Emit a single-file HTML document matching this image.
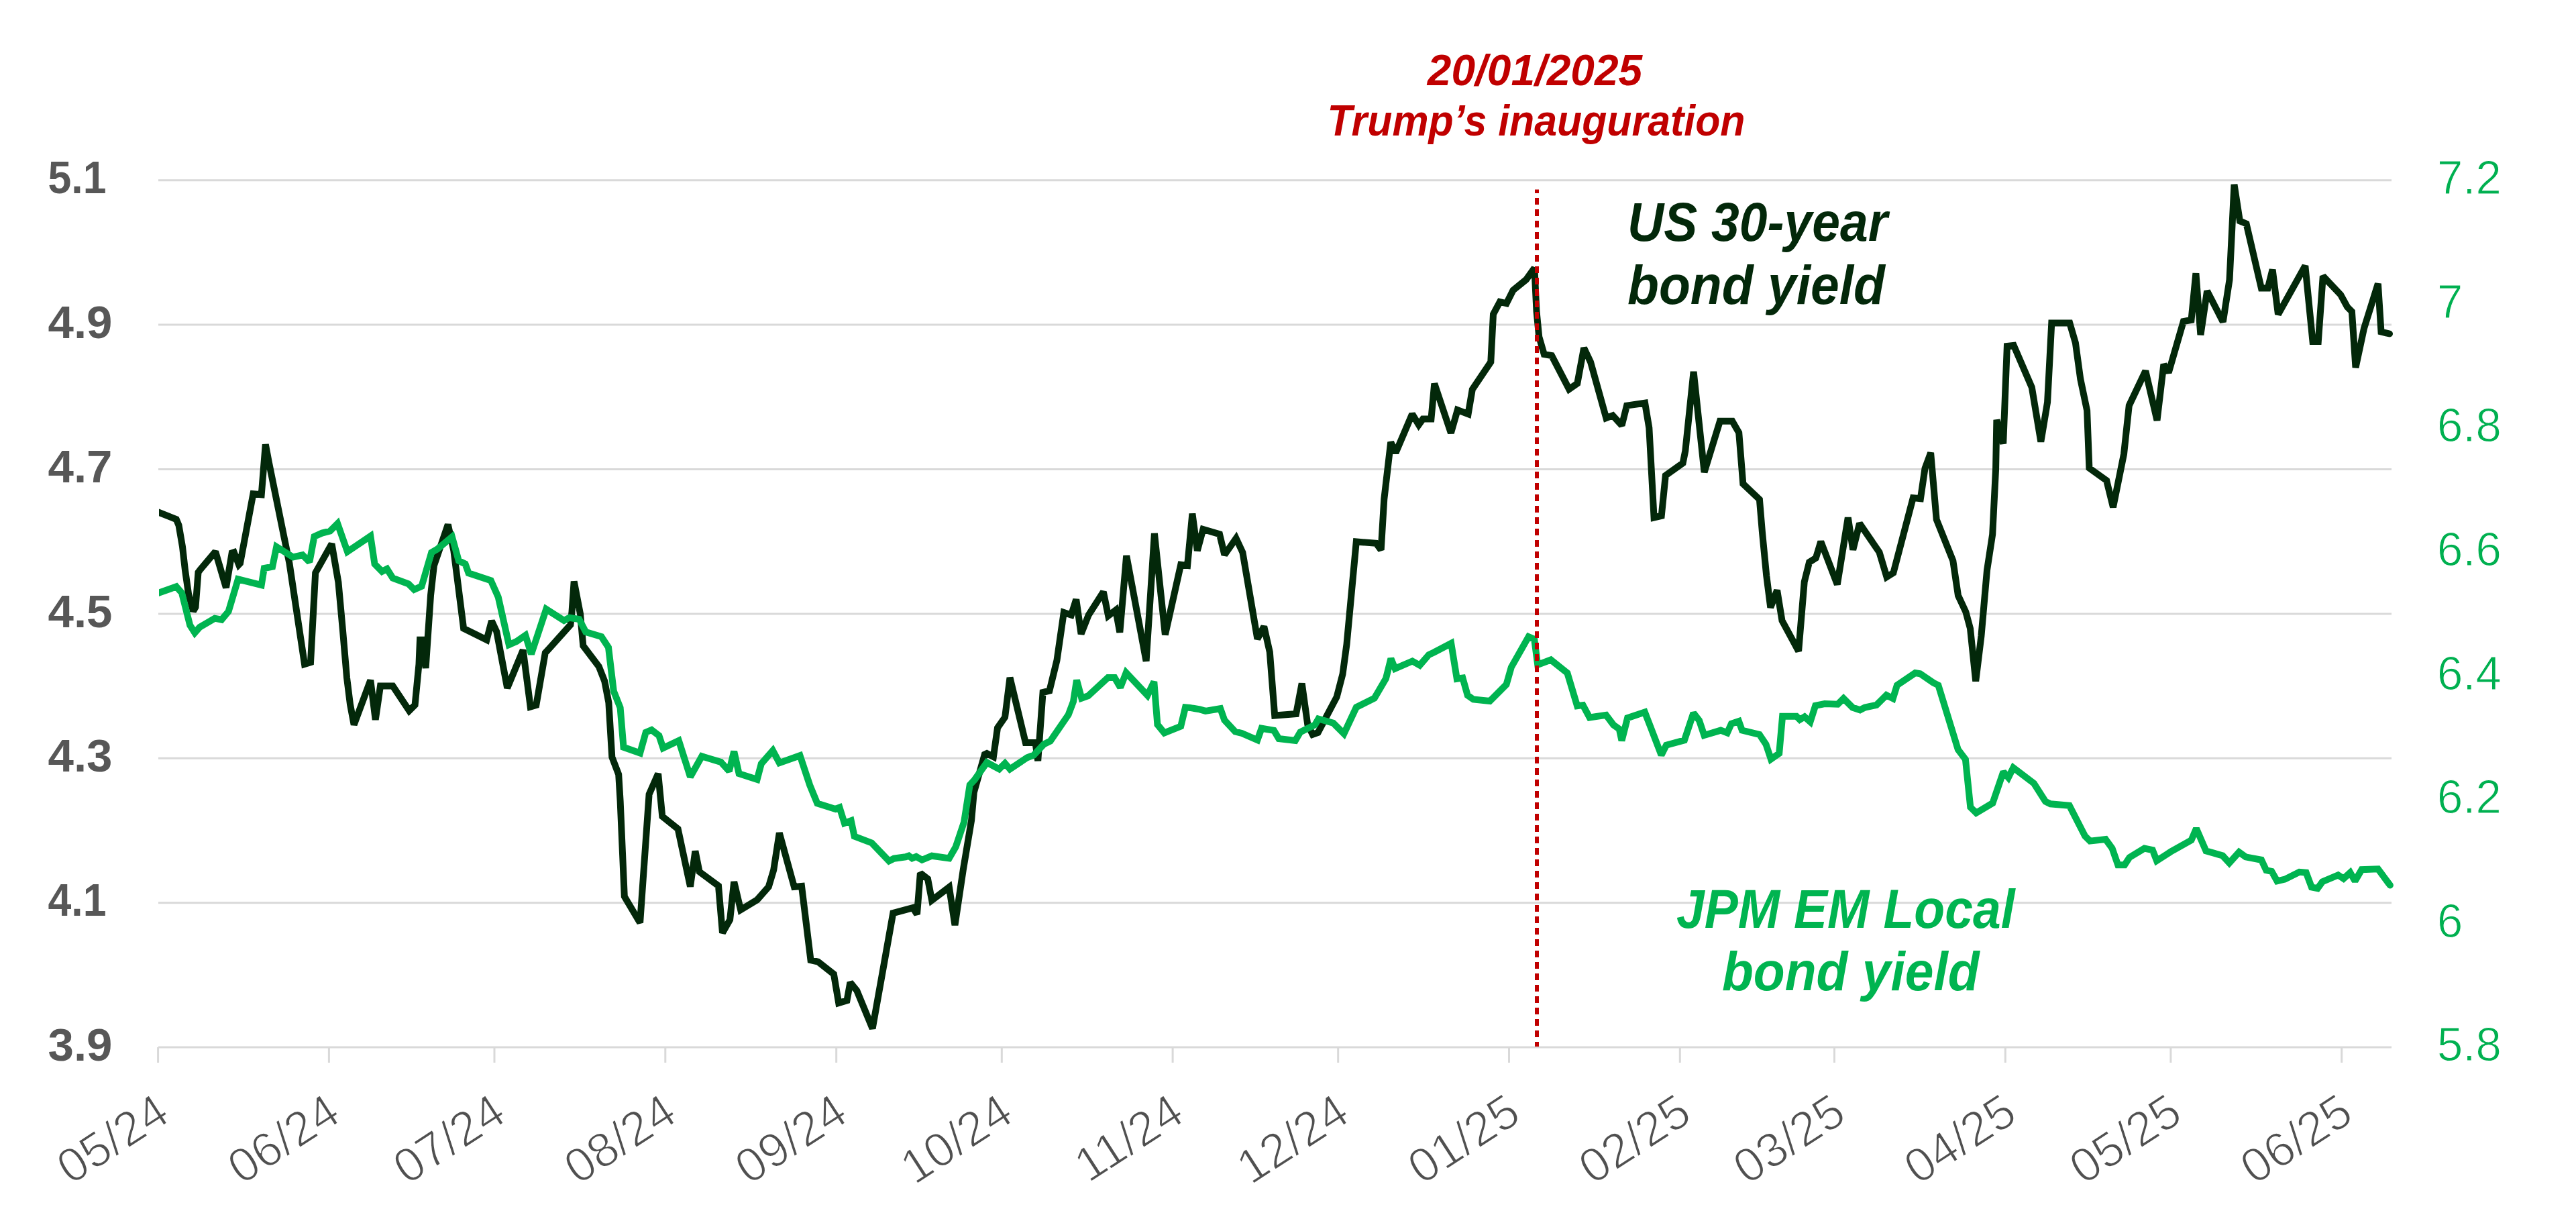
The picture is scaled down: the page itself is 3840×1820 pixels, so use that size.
<!DOCTYPE html>
<html><head><meta charset="utf-8"><title>US 30-year vs JPM EM Local bond yield</title>
<style>html,body{margin:0;padding:0;background:#fff;}svg{display:block;}</style></head>
<body>
<svg width="3840" height="1820" viewBox="0 0 3840 1820">
<rect width="3840" height="1820" fill="#fff"/>
<path d="M236 268.7H3565M236 484.1H3565M236 699.5H3565M236 914.9H3565M236 1130.3H3565M236 1345.7H3565M236 1561.1H3565M235.6 1561.1V1584.1M490.4 1561.1V1584.1M737.0 1561.1V1584.1M991.8 1561.1V1584.1M1246.7 1561.1V1584.1M1493.3 1561.1V1584.1M1748.1 1561.1V1584.1M1994.7 1561.1V1584.1M2249.5 1561.1V1584.1M2504.3 1561.1V1584.1M2734.5 1561.1V1584.1M2989.3 1561.1V1584.1M3235.9 1561.1V1584.1M3490.7 1561.1V1584.1" stroke="#d9d9d9" stroke-width="3" fill="none"/>
<g font-family="&quot;Liberation Sans&quot;, sans-serif" font-weight="bold" font-size="69" fill="#575757">
<text x="71.5" y="288.4" textLength="87.0" lengthAdjust="spacingAndGlyphs">5.1</text>
<text x="71.5" y="503.8" textLength="96.0" lengthAdjust="spacingAndGlyphs">4.9</text>
<text x="71.5" y="719.2" textLength="96.0" lengthAdjust="spacingAndGlyphs">4.7</text>
<text x="71.5" y="934.6" textLength="96.0" lengthAdjust="spacingAndGlyphs">4.5</text>
<text x="71.5" y="1150.0" textLength="96.0" lengthAdjust="spacingAndGlyphs">4.3</text>
<text x="71.5" y="1365.4" textLength="87.0" lengthAdjust="spacingAndGlyphs">4.1</text>
<text x="71.5" y="1580.8" textLength="96.0" lengthAdjust="spacingAndGlyphs">3.9</text>
</g>
<g font-family="&quot;Liberation Sans&quot;, sans-serif" font-size="70" fill="#00b050" stroke="#fff" stroke-width="1">
<text x="3633" y="289.0" textLength="95.8" lengthAdjust="spacingAndGlyphs">7.2</text>
<text x="3633" y="473.6" textLength="38.3" lengthAdjust="spacingAndGlyphs">7</text>
<text x="3633" y="658.3" textLength="95.8" lengthAdjust="spacingAndGlyphs">6.8</text>
<text x="3633" y="842.9" textLength="95.8" lengthAdjust="spacingAndGlyphs">6.6</text>
<text x="3633" y="1027.5" textLength="95.8" lengthAdjust="spacingAndGlyphs">6.4</text>
<text x="3633" y="1212.1" textLength="95.8" lengthAdjust="spacingAndGlyphs">6.2</text>
<text x="3633" y="1396.8" textLength="38.3" lengthAdjust="spacingAndGlyphs">6</text>
<text x="3633" y="1581.4" textLength="95.8" lengthAdjust="spacingAndGlyphs">5.8</text>
</g>
<g font-family="&quot;Liberation Sans&quot;, sans-serif" font-size="72" fill="#505050" stroke="#fff" stroke-width="1.8" text-anchor="end">
<text transform="translate(256.6,1669.1) rotate(-33)">05/24</text>
<text transform="translate(511.4,1669.1) rotate(-33)">06/24</text>
<text transform="translate(758.0,1669.1) rotate(-33)">07/24</text>
<text transform="translate(1012.8,1669.1) rotate(-33)">08/24</text>
<text transform="translate(1267.7,1669.1) rotate(-33)">09/24</text>
<text transform="translate(1514.3,1669.1) rotate(-33)">10/24</text>
<text transform="translate(1769.1,1669.1) rotate(-33)">11/24</text>
<text transform="translate(2015.7,1669.1) rotate(-33)">12/24</text>
<text transform="translate(2270.5,1669.1) rotate(-33)">01/25</text>
<text transform="translate(2525.3,1669.1) rotate(-33)">02/25</text>
<text transform="translate(2755.5,1669.1) rotate(-33)">03/25</text>
<text transform="translate(3010.3,1669.1) rotate(-33)">04/25</text>
<text transform="translate(3256.9,1669.1) rotate(-33)">05/25</text>
<text transform="translate(3511.7,1669.1) rotate(-33)">06/25</text>
</g>
<defs><clipPath id="pc"><rect x="237" y="0" width="3400" height="1820"/></clipPath></defs>
<g clip-path="url(#pc)">
<polyline points="228.0,760.5 237.2,763.9 262.8,774.1 266.5,783.0 272.0,815.0 276.0,850.0 281.0,885.0 288.0,911.0 291.5,905.0 295.5,853.0 298.5,849.0 321.1,822.2 337.0,876.0 345.7,824.3 348.8,823.3 356.0,841.7 358.0,839.6 377.4,736.2 389.7,737.3 395.8,662.5 401.0,690.0 431.4,839.5 454.0,990.0 463.0,987.2 470.2,853.9 494.5,810.6 504.4,867.8 511.0,940.0 517.0,1010.0 522.0,1050.0 527.7,1080.2 552.3,1013.9 559.7,1072.9 567.0,1022.5 585.5,1022.5 610.0,1059.3 618.6,1050.7 624.5,990.0 626.0,953.7 630.0,953.7 634.6,996.0 642.0,887.4 646.9,843.2 667.8,781.8 676.4,821.0 691.1,936.6 725.5,953.8 732.9,925.5 740.3,941.5 756.2,1025.6 779.7,968.8 790.7,1053.6 799.3,1051.1 812.8,973.0 819.0,966.3 850.4,931.4 852.5,912.0 855.7,866.7 865.0,915.0 869.3,962.5 892.7,993.4 901.3,1015.5 907.4,1047.4 912.3,1128.5 922.2,1154.4 924.6,1193.7 930.8,1336.2 954.1,1375.5 967.6,1183.9 981.1,1153.2 987.3,1217.0 1010.6,1235.5 1029.0,1321.5 1036.4,1268.6 1042.6,1299.4 1071.0,1320.5 1077.0,1390.6 1088.1,1370.9 1094.2,1314.4 1104.1,1356.2 1128.6,1341.4 1145.8,1321.8 1153.2,1297.0 1161.8,1241.6 1183.9,1322.0 1195.0,1321.0 1208.5,1431.1 1219.5,1433.6 1242.9,1452.0 1250.2,1495.0 1262.5,1491.3 1267.4,1464.3 1277.3,1476.6 1300.6,1533.1 1331.3,1361.1 1360.9,1353.1 1367.0,1362.9 1371.9,1301.5 1383.0,1310.1 1389.1,1342.0 1414.9,1322.4 1423.5,1378.9 1435.8,1296.6 1448.1,1222.9 1451.8,1181.1 1467.8,1124.6 1471.1,1123.0 1480.9,1128.0 1487.0,1085.0 1498.1,1069.0 1505.5,1010.0 1528.8,1107.1 1543.5,1107.1 1547.2,1134.1 1554.6,1032.1 1564.4,1029.7 1575.5,984.2 1585.8,913.0 1596.9,916.7 1604.2,893.4 1611.6,945.0 1622.7,916.7 1644.8,882.3 1652.1,918.0 1663.2,909.4 1669.3,942.5 1679.2,828.3 1708.6,985.5 1720.9,795.1 1736.9,946.2 1760.2,841.8 1770.1,843.0 1777.4,765.6 1784.8,820.9 1793.4,789.0 1818.0,796.3 1825.4,827.0 1842.6,802.5 1852.4,823.4 1874.4,952.3 1884.2,933.9 1892.8,972.0 1900.2,1066.6 1932.1,1064.1 1940.7,1018.7 1949.3,1080.1 1956.7,1094.8 1964.7,1092.0 1978.0,1066.7 1992.7,1038.7 2001.5,1004.8 2007.5,960.5 2021.8,807.4 2051.3,809.8 2058.7,819.7 2063.3,743.8 2073.2,659.0 2080.5,675.0 2105.1,617.2 2114.9,633.2 2121.1,624.6 2133.4,624.6 2138.3,571.8 2162.9,645.5 2172.7,611.1 2188.6,617.2 2194.8,580.4 2222.3,539.5 2226.0,468.3 2235.8,449.9 2245.7,452.3 2255.5,432.7 2275.1,416.7 2287.4,399.5 2290.5,464.0 2294.2,501.8 2301.8,528.2 2313.1,530.1 2339.0,580.1 2351.3,571.5 2361.1,518.6 2371.0,539.5 2394.3,623.1 2404.1,619.4 2417.6,634.1 2425.0,604.6 2452.1,600.7 2458.3,637.6 2465.6,771.5 2476.7,769.0 2482.8,708.8 2508.6,690.4 2512.3,672.0 2524.6,554.1 2540.6,703.9 2563.9,627.8 2582.3,627.8 2592.2,645.0 2598.3,721.1 2622.9,744.5 2627.0,793.7 2633.2,857.6 2639.3,905.5 2649.1,879.7 2656.5,925.2 2681.1,970.6 2689.7,867.4 2697.1,837.9 2706.9,831.8 2714.3,807.2 2738.8,871.1 2754.8,771.6 2762.2,819.5 2772.0,780.2 2801.5,823.2 2812.5,860.0 2822.4,853.9 2851.8,742.1 2862.9,743.3 2869.5,698.3 2878.1,674.9 2886.7,774.4 2911.3,835.9 2919.0,887.7 2930.4,912.2 2937.0,936.8 2945.2,1015.4 2953.4,948.3 2962.0,850.0 2970.2,796.6 2975.1,698.3 2976.4,625.8 2986.2,661.4 2991.9,516.0 3001.8,514.8 3028.8,577.4 3042.3,658.5 3052.1,599.5 3058.3,481.6 3085.3,481.6 3093.9,511.1 3101.3,565.1 3111.1,611.8 3114.4,697.7 3140.2,716.2 3150.0,756.1 3166.0,676.9 3173.8,604.5 3198.3,552.9 3215.5,626.6 3225.4,543.0 3232.7,555.3 3254.8,479.1 3266.5,477.0 3273.4,407.3 3280.4,499.2 3290.1,433.8 3313.8,479.7 3323.5,417.1 3330.5,275.1 3338.9,329.4 3348.6,333.5 3370.9,429.6 3380.6,429.6 3387.6,401.8 3396.0,468.6 3436.3,396.2 3447.5,509.0 3455.8,509.0 3462.8,411.5 3489.2,439.4 3499.0,457.5 3505.9,464.4 3511.5,548.0 3524.0,489.5 3544.9,422.7 3549.5,494.5 3562.0,497.5" fill="none" stroke="#03280a" stroke-width="10" stroke-linejoin="miter" stroke-miterlimit="2" stroke-linecap="round"/>
<polyline points="228.0,886.9 237.2,883.6 262.8,874.4 271.0,883.8 283.2,931.9 290.4,943.2 297.6,935.0 320.1,921.7 330.3,923.7 340.6,911.4 354.9,863.3 389.7,872.0 393.8,847.0 406.1,844.7 412.2,815.0 436.8,830.4 451.0,827.3 461.4,837.6 468.5,799.7 480.0,794.6 492.1,791.6 503.2,780.5 517.9,822.3 552.3,799.0 558.5,840.7 569.5,851.8 576.9,848.1 585.5,861.6 608.8,870.2 617.4,878.8 628.5,873.9 643.2,823.5 651.8,818.6 673.9,800.2 683.8,835.8 693.6,840.7 698.5,854.2 731.7,865.3 742.7,889.9 758.7,961.1 770.0,956.2 783.3,947.0 792.0,975.0 814.2,908.0 840.8,925.0 848.8,920.7 863.3,923.0 873.2,942.0 896.5,949.0 907.0,965.0 914.8,1030.2 924.6,1054.8 929.5,1113.8 954.1,1122.4 962.7,1091.6 971.3,1088.0 982.4,1096.6 988.5,1115.0 1011.8,1103.9 1029.0,1158.0 1046.2,1127.3 1050.0,1128.6 1074.6,1136.0 1086.9,1149.5 1094.2,1120.0 1101.6,1153.2 1128.6,1161.8 1134.8,1138.5 1152.0,1118.8 1161.8,1137.2 1192.5,1126.2 1207.2,1170.4 1218.3,1197.4 1245.3,1206.0 1251.5,1203.6 1258.8,1226.9 1268.7,1223.2 1273.6,1246.6 1299.4,1256.4 1325.2,1283.4 1332.6,1279.7 1350.0,1277.3 1354.7,1275.7 1359.7,1279.4 1365.8,1276.9 1374.4,1281.8 1389.1,1275.7 1414.9,1279.4 1424.8,1262.2 1437.1,1225.3 1445.7,1170.0 1453.0,1162.0 1471.1,1136.6 1489.5,1146.4 1498.1,1137.8 1505.5,1146.4 1531.3,1129.2 1541.1,1125.5 1555.8,1109.5 1565.7,1104.6 1592.7,1065.3 1600.0,1045.7 1605.0,1013.7 1612.3,1040.7 1622.2,1037.1 1651.6,1010.0 1661.5,1010.0 1670.1,1024.8 1678.7,1002.7 1710.5,1036.5 1720.3,1016.2 1725.4,1080.0 1735.6,1092.4 1760.2,1082.6 1767.0,1054.3 1773.7,1054.9 1788.5,1057.4 1797.0,1059.9 1819.2,1056.2 1825.3,1073.4 1841.3,1090.6 1851.1,1093.0 1874.4,1103.0 1880.6,1085.7 1899.0,1088.7 1906.3,1101.0 1930.9,1104.0 1938.3,1091.2 1960.4,1080.1 1965.3,1071.5 1987.4,1077.6 2003.4,1093.6 2021.8,1054.3 2048.8,1040.8 2066.0,1011.3 2073.4,981.8 2079.6,996.6 2105.4,985.5 2116.4,991.6 2129.9,976.0 2137.4,972.5 2163.2,959.0 2171.8,1011.8 2180.4,1010.6 2187.7,1036.4 2196.3,1042.5 2220.9,1045.0 2245.5,1020.4 2252.8,994.6 2278.6,949.1 2287.2,952.8 2292.2,990.9 2311.8,983.5 2336.4,1003.2 2351.1,1052.3 2359.7,1051.1 2369.6,1069.5 2394.1,1065.8 2405.2,1080.6 2413.8,1086.7 2417.5,1103.9 2426.1,1070.2 2451.9,1061.6 2460.5,1083.7 2476.5,1125.5 2483.9,1110.8 2510.9,1103.4 2524.4,1062.9 2533.0,1073.9 2540.4,1096.0 2565.0,1088.6 2574.8,1092.3 2580.9,1078.8 2592.0,1075.1 2596.9,1088.6 2622.7,1094.8 2632.5,1109.5 2639.9,1131.6 2652.2,1123.0 2657.1,1067.8 2678.0,1067.8 2682.9,1072.7 2690.0,1068.5 2698.5,1076.0 2706.2,1051.8 2720.0,1049.0 2739.5,1049.7 2748.1,1041.1 2761.6,1054.6 2772.7,1058.3 2780.0,1054.6 2797.2,1050.9 2812.0,1036.2 2821.8,1041.1 2827.9,1021.4 2855.0,1003.0 2862.3,1004.2 2882.0,1017.7 2889.4,1021.4 2918.8,1117.2 2929.9,1132.0 2937.3,1203.2 2945.9,1211.8 2970.4,1197.1 2986.4,1150.4 2993.8,1159.0 3001.2,1144.3 3031.9,1167.6 3049.1,1194.6 3056.5,1198.3 3084.8,1200.7 3108.1,1246.2 3115.5,1253.6 3138.8,1251.1 3148.6,1264.6 3157.2,1289.2 3167.1,1289.2 3174.4,1278.1 3196.6,1264.6 3208.8,1267.1 3215.0,1283.0 3228.5,1274.4 3235.9,1269.5 3266.6,1252.3 3274.0,1235.0 3288.4,1268.3 3313.3,1275.5 3323.2,1286.3 3337.7,1270.1 3347.6,1277.3 3371.0,1281.8 3378.2,1297.1 3386.3,1298.9 3394.4,1313.3 3406.1,1310.6 3427.7,1299.8 3437.7,1300.7 3445.8,1322.3 3454.8,1324.1 3462.0,1314.2 3485.4,1304.3 3493.5,1309.7 3503.4,1300.7 3510.6,1313.3 3520.5,1296.2 3544.9,1295.3 3562.9,1319.6" fill="none" stroke="#00b450" stroke-width="10" stroke-linejoin="miter" stroke-miterlimit="2" stroke-linecap="round"/>
</g>
<line x1="2291" y1="282.6" x2="2291" y2="1560" stroke="#c00000" stroke-width="6" stroke-dasharray="10 7" stroke-dashoffset="4.6"/>
<g font-family="&quot;Liberation Sans&quot;, sans-serif" font-weight="bold" font-style="italic">
<text x="2288" y="127" font-size="64" fill="#c00000" text-anchor="middle" textLength="320.3" lengthAdjust="spacingAndGlyphs">20/01/2025</text>
<text x="2290" y="202" font-size="64" fill="#c00000" text-anchor="middle" textLength="623" lengthAdjust="spacingAndGlyphs">Trump’s inauguration</text>
<text x="2426" y="358.6" font-size="82" fill="#03280a" text-anchor="start" textLength="387.9" lengthAdjust="spacingAndGlyphs">US 30-year</text>
<text x="2426" y="453.2" font-size="82" fill="#03280a" text-anchor="start" textLength="384" lengthAdjust="spacingAndGlyphs">bond yield</text>
<text x="2751.2" y="1382.6" font-size="82" fill="#00b450" text-anchor="middle" textLength="504.6" lengthAdjust="spacingAndGlyphs">JPM EM Local</text>
<text x="2758.8" y="1476" font-size="82" fill="#00b450" text-anchor="middle" textLength="383.6" lengthAdjust="spacingAndGlyphs">bond yield</text>
</g>
</svg>
</body></html>
